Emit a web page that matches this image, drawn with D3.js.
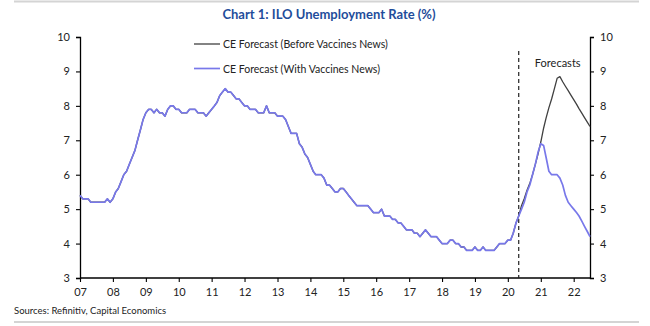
<!DOCTYPE html>
<html>
<head>
<meta charset="utf-8">
<script src="https://cdn.jsdelivr.net/npm/d3@7"></script>
<style>
  html, body { margin: 0; padding: 0; background: #fff; }
  svg { display: block; font-family: Lato, "Open Sans", sans-serif; }
</style>
</head>
<body>
<svg id="chart" width="650" height="326"></svg>
<script>
// ILO unemployment rate (%), monthly from Jan 2007 to May 2020
const history = [
  5.4, 5.3, 5.3, 5.3, 5.2, 5.2, 5.2, 5.2, 5.2, 5.2, 5.3, 5.2,
  5.3, 5.5, 5.6, 5.8, 6.0, 6.1, 6.3, 6.5, 6.7, 7.0, 7.3, 7.6,
  7.8, 7.9, 7.9, 7.8, 7.9, 7.8, 7.8, 7.7, 7.9, 8.0, 8.0, 7.9,
  7.9, 7.8, 7.8, 7.8, 7.9, 7.9, 7.9, 7.8, 7.8, 7.8, 7.7, 7.8,
  7.9, 8.0, 8.1, 8.3, 8.4, 8.5, 8.4, 8.4, 8.3, 8.2, 8.2, 8.1,
  8.0, 8.0, 7.9, 7.9, 7.9, 7.8, 7.8, 7.8, 8.0, 7.8, 7.8, 7.8,
  7.7, 7.7, 7.7, 7.6, 7.4, 7.2, 7.2, 7.2, 6.9, 6.8, 6.6, 6.5,
  6.3, 6.1, 6.0, 6.0, 6.0, 5.9, 5.7, 5.7, 5.6, 5.5, 5.5, 5.6,
  5.6, 5.5, 5.4, 5.3, 5.2, 5.1, 5.1, 5.1, 5.1, 5.1, 5.0, 4.9,
  4.9, 4.9, 5.0, 4.8, 4.8, 4.8, 4.7, 4.7, 4.6, 4.6, 4.5, 4.4,
  4.4, 4.4, 4.3, 4.3, 4.2, 4.3, 4.4, 4.3, 4.2, 4.2, 4.2, 4.1,
  4.0, 4.0, 4.0, 4.1, 4.1, 4.0, 4.0, 3.9, 3.9, 3.8, 3.8, 3.8,
  3.9, 3.8, 3.8, 3.9, 3.8, 3.8, 3.8, 3.8, 3.9, 4.0, 4.0, 4.0,
  4.1, 4.1, 4.3, 4.6, 4.8
];
// Forecast paths, Jun 2020 to Jul 2022
const forecastBefore = [
  5.1, 5.3, 5.55, 5.75, 6.0, 6.3, 6.6, 6.95, 7.35, 7.65, 7.95, 8.2,
  8.5, 8.8, 8.85, 8.7, 8.57, 8.44, 8.31, 8.18, 8.05, 7.92, 7.79, 7.66,
  7.53, 7.4
];
const forecastWith = [
  5.0, 5.2, 5.5, 5.7, 6.0, 6.3, 6.65, 6.9, 6.85, 6.5, 6.1, 6.0,
  6.0, 6.0, 5.9, 5.7, 5.4, 5.2, 5.1, 5.0, 4.9, 4.8, 4.65, 4.5,
  4.35, 4.2
];
const seriesNames = ["CE Forecast (Before Vaccines News)", "CE Forecast (With Vaccines News)"];
const seriesColors = ["#404040", "#7878ea"];
const yTicks = [3, 4, 5, 6, 7, 8, 9, 10];
const yearLabels = ["07","08","09","10","11","12","13","14","15","16","17","18","19","20","21","22"];
const forecastStart = new Date(2020, 4, 1);

const startYear = 2007, startMonth = 0;
const toPoints = arr => arr.map((v, i) => ({ date: new Date(startYear, startMonth + i, 1), value: v }));
const beforeSeries = toPoints(history.concat(forecastBefore));
const withSeries = toPoints(history.concat(forecastWith));

const svg = d3.select("#chart");
const margin = { left: 80, right: 60, top: 37, bottom: 48 };
const W = 650, H = 326;

const x = d3.scaleTime()
  .domain([new Date(2007, 0, 1), new Date(2022, 6, 1)])
  .range([margin.left, W - margin.right]);
const y = d3.scaleLinear()
  .domain([3, 10])
  .range([H - margin.bottom, margin.top]);

// frame rules
svg.append("line").attr("x1", 14).attr("x2", 639).attr("y1", 1.5).attr("y2", 1.5)
  .attr("stroke", "#d4d4d4").attr("stroke-width", 2);
svg.append("line").attr("x1", 14).attr("x2", 639).attr("y1", 322).attr("y2", 322)
  .attr("stroke", "#d4d4d4").attr("stroke-width", 2);

// title
svg.append("text")
  .attr("x", 329).attr("y", 19)
  .attr("text-anchor", "middle")
  .attr("font-weight", "bold")
  .attr("font-size", 13)
  .attr("fill", "#1f4d9b")
  .text("Chart 1: ILO Unemployment Rate (%)");

// axes
const yearTicks = yearLabels.map(l => new Date(2000 + (+l), 0, 1));
const xAxis = d3.axisBottom(x).tickValues(yearTicks)
  .tickFormat((d, i) => yearLabels[i]).tickSize(4).tickPadding(6);
const yLeft = d3.axisLeft(y).tickValues(yTicks).tickFormat(d3.format("d")).tickSize(4).tickPadding(6);
const yRight = d3.axisRight(y).tickValues(yTicks).tickFormat(d3.format("d")).tickSize(4).tickPadding(6);

function styleAxis(g) {
  g.select(".domain").attr("stroke", "#000").attr("stroke-width", 1.3);
  g.selectAll(".tick line").attr("stroke", "#000").attr("stroke-width", 1.1);
  g.selectAll(".tick text").attr("font-size", 11).attr("fill", "#222")
    .attr("font-family", "Lato, 'Open Sans', sans-serif");
}

svg.append("g").attr("transform", `translate(0,${y(3)})`).call(xAxis).call(styleAxis)
  .call(g => g.select(".domain").attr("d", `M${x.range()[0]},0H${x.range()[1]}`));
svg.append("g").attr("transform", `translate(${x.range()[0]},0)`).call(yLeft).call(styleAxis);
svg.append("g").attr("transform", `translate(${x.range()[1]},0)`).call(yRight).call(styleAxis);

// forecast divider
svg.append("line")
  .attr("x1", x(forecastStart)).attr("x2", x(forecastStart))
  .attr("y1", 51).attr("y2", y(3))
  .attr("stroke", "#222").attr("stroke-width", 1.2)
  .attr("stroke-dasharray", "4,3");
svg.append("text")
  .attr("x", x(forecastStart) + 39).attr("y", 67)
  .attr("text-anchor", "middle")
  .attr("font-size", 11).attr("fill", "#222")
  .text("Forecasts");

// lines
const line = d3.line().x(d => x(d.date)).y(d => y(d.value));
svg.append("path").datum(beforeSeries)
  .attr("fill", "none").attr("stroke", seriesColors[0]).attr("stroke-width", 1.3)
  .attr("stroke-linejoin", "round").attr("d", line);
svg.append("path").datum(withSeries)
  .attr("fill", "none").attr("stroke", seriesColors[1]).attr("stroke-width", 1.7)
  .attr("stroke-linejoin", "round").attr("d", line);

// legend
const legend = svg.append("g");
seriesNames.forEach((name, i) => {
  const ly = 44 + i * 24.5;
  legend.append("line").attr("x1", 194).attr("x2", 220).attr("y1", ly).attr("y2", ly)
    .attr("stroke", seriesColors[i]).attr("stroke-width", i === 0 ? 1.3 : 1.7);
  legend.append("text").attr("x", 223).attr("y", ly + 4)
    .attr("font-size", 10.5).attr("fill", "#222").text(name);
});

// source note
svg.append("text")
  .attr("x", 14).attr("y", 314)
  .attr("font-size", 9.5).attr("fill", "#222")
  .text("Sources: Refinitiv, Capital Economics");
</script>
</body>
</html>
